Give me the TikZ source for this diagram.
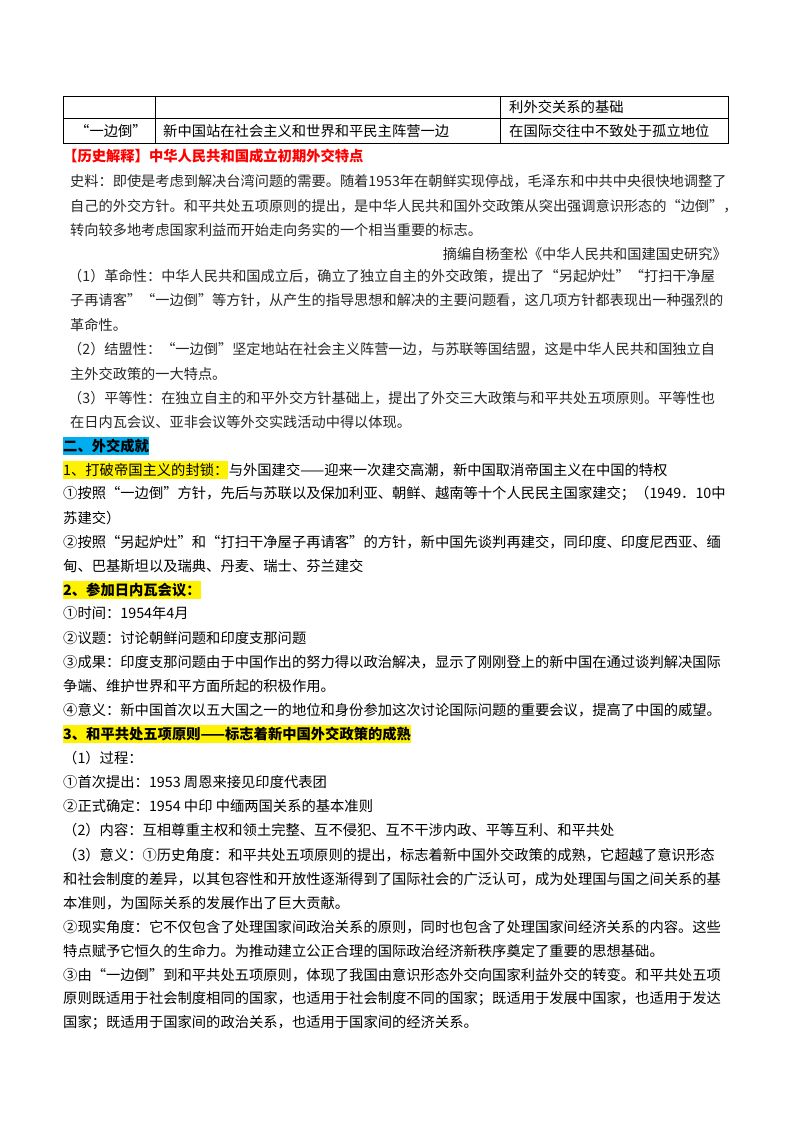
\documentclass[tikz,border=0pt]{standalone}
\usepackage{fontspec}
\setmainfont{Noto Sans CJK SC}
\begin{document}
\begin{tikzpicture}[x=1pt,y=-1pt,
  t/.style={anchor=west,inner sep=0pt,font=\fontsize{14.3}{15}\selectfont},
  s/.style={anchor=west,inner sep=0pt,font=\fontsize{14.2}{15}\selectfont,text=black!85},
  hy/.style={t,fill=yellow,inner ysep=2pt},
  hc/.style={t,fill=cyan,inner ysep=2pt,font=\fontsize{14.3}{15}\selectfont\bfseries}]
\useasboundingbox (0,0) rectangle (800,1132);
\draw[line width=0.8pt] (63,96) rectangle (728,143);
\draw[line width=0.8pt] (63,118) -- (728,118) (155,96) -- (155,143) (500,96) -- (500,143);
\node[t] (c1) at (509,107) {利外交关系的基础};
\node[t] (c2) at (75,131) {“一边倒”};
\node[t] (c3) at (163,131) {新中国站在社会主义和世界和平民主阵营一边};
\node[t] (c4) at (509,131) {在国际交往中不致处于孤立地位};
\node[t,text=red,font=\fontsize{14.3}{15}\selectfont\bfseries] (h0) at (63,156) {【历史解释】中华人民共和国成立初期外交特点};
\node[s] (a1) at (70,181) {史料：即使是考虑到解决台湾问题的需要。随着1953年在朝鲜实现停战，毛泽东和中共中央很快地调整了};
\node[s] (a2) at (70,206) {自己的外交方针。和平共处五项原则的提出，是中华人民共和国外交政策从突出强调意识形态的“边倒”，};
\node[s] (a3) at (70,230) {转向较多地考虑国家利益而开始走向务实的一个相当重要的标志。};
\node[s,anchor=east] (a4) at (727,254) {摘编自杨奎松《中华人民共和国建国史研究》};
\node[s] (b1) at (68,276) {（1）革命性：中华人民共和国成立后，确立了独立自主的外交政策，提出了“另起炉灶”“打扫干净屋};
\node[s] (b2) at (70,300) {子再请客”“一边倒”等方针，从产生的指导思想和解决的主要问题看，这几项方针都表现出一种强烈的};
\node[s] (b3) at (70,325) {革命性。};
\node[s] (b4) at (68,349) {（2）结盟性：“一边倒”坚定地站在社会主义阵营一边，与苏联等国结盟，这是中华人民共和国独立自};
\node[s] (b5) at (70,374) {主外交政策的一大特点。};
\node[s] (b6) at (68,398) {（3）平等性：在独立自主的和平外交方针基础上，提出了外交三大政策与和平共处五项原则。平等性也};
\node[s] (b7) at (70,422) {在日内瓦会议、亚非会议等外交实践活动中得以体现。};
\node[hc] (e0) at (63,446) {二、外交成就};
\node[hy] (e1) at (63,470) {1、打破帝国主义的封锁：};
\node[t] (e1b) at (e1.east) {与外国建交——迎来一次建交高潮，新中国取消帝国主义在中国的特权};
\node[t] (e2) at (63,494) {①按照“一边倒”方针，先后与苏联以及保加利亚、朝鲜、越南等十个人民民主国家建交；（1949．10中};
\node[t] (e3) at (63,518) {苏建交）};
\node[t] (e4) at (63,542) {②按照“另起炉灶”和“打扫干净屋子再请客”的方针，新中国先谈判再建交，同印度、印度尼西亚、缅};
\node[t] (e5) at (63,566) {甸、巴基斯坦以及瑞典、丹麦、瑞士、芬兰建交};
\node[hy,font=\fontsize{14.3}{15}\selectfont\bfseries] (f0) at (63,590) {2、参加日内瓦会议：};
\node[t] (f1) at (63,613) {①时间：1954年4月};
\node[t] (f2) at (63,638) {②议题：讨论朝鲜问题和印度支那问题};
\node[t] (f3) at (63,662) {③成果：印度支那问题由于中国作出的努力得以政治解决，显示了刚刚登上的新中国在通过谈判解决国际};
\node[t] (f4) at (63,686) {争端、维护世界和平方面所起的积极作用。};
\node[t] (f5) at (63,710) {④意义：新中国首次以五大国之一的地位和身份参加这次讨论国际问题的重要会议，提高了中国的威望。};
\node[hy,font=\fontsize{14.3}{15}\selectfont\bfseries] (g0) at (63,734) {3、和平共处五项原则——标志着新中国外交政策的成熟};
\node[t] (g1) at (63,758) {（1）过程：};
\node[t] (g2) at (63,782) {①首次提出：1953 周恩来接见印度代表团};
\node[t] (g3) at (63,806) {②正式确定：1954 中印 中缅两国关系的基本准则};
\node[t] (g4) at (63,830) {（2）内容：互相尊重主权和领土完整、互不侵犯、互不干涉内政、平等互利、和平共处};
\node[t] (g5) at (63,855) {（3）意义：①历史角度：和平共处五项原则的提出，标志着新中国外交政策的成熟，它超越了意识形态};
\node[t] (g6) at (63,879) {和社会制度的差异，以其包容性和开放性逐渐得到了国际社会的广泛认可，成为处理国与国之间关系的基};
\node[t] (g7) at (63,903) {本准则，为国际关系的发展作出了巨大贡献。};
\node[t] (g8) at (63,927) {②现实角度：它不仅包含了处理国家间政治关系的原则，同时也包含了处理国家间经济关系的内容。这些};
\node[t] (g9) at (63,951) {特点赋予它恒久的生命力。为推动建立公正合理的国际政治经济新秩序奠定了重要的思想基础。};
\node[t] (g10) at (63,975) {③由“一边倒”到和平共处五项原则，体现了我国由意识形态外交向国家利益外交的转变。和平共处五项};
\node[t] (g11) at (63,999) {原则既适用于社会制度相同的国家，也适用于社会制度不同的国家；既适用于发展中国家，也适用于发达};
\node[t] (g12) at (63,1023) {国家；既适用于国家间的政治关系，也适用于国家间的经济关系。};
\end{tikzpicture}
\end{document}
